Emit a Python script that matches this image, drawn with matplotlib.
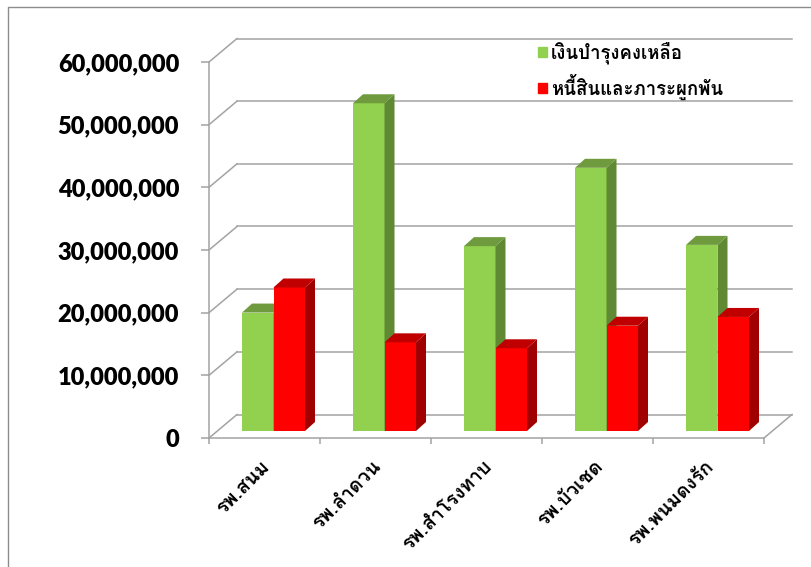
"""
Hospital balances chart, 3D look bars, drawn on one flat axes.
"""

import matplotlib
matplotlib.use("Agg")
import matplotlib.pyplot as plt
from matplotlib.patches import Patch, Polygon

hospitals = ["รพ.สนม", "รพ.ลำดวน", "รพ.สำโรงทาบ", "รพ.บัวเชด", "รพ.พนมดงรัก"]
balance = [18900000, 52300000, 29500000, 42000000, 29700000]
debts = [22900000, 14150000, 13200000, 16800000, 18200000]
series_names = ["เงินบำรุงคงเหลือ", "หนี้สินและภาระผูกพัน"]
y_ticks = [0, 10000000, 20000000, 30000000, 40000000, 50000000, 60000000]

W, H = 811, 567
LEFT, RIGHT, BOTTOM, TOP = 209, 764, 438, 62
GREY = "#a3a3a3"

fig = plt.figure(figsize=(W / 100, H / 100), dpi=100)
ax = fig.add_axes([LEFT / W, 1 - BOTTOM / H, (RIGHT - LEFT) / W, (BOTTOM - TOP) / H])
ax.set_xlim(0, len(hospitals))
ax.set_ylim(0, 60000000)
ax.patch.set_visible(False)

px_x = len(hospitals) / (RIGHT - LEFT)
px_y = 60000000 / (BOTTOM - TOP)


def add_poly(points, color, z):
    ax.add_patch(Polygon(points, closed=True, facecolor=color, edgecolor="none", zorder=z, clip_on=False))


# walls of the 3D box
wall_dx, wall_dy = 28 * px_x, 23.5 * px_y
for t in y_ticks:
    ax.plot([0, wall_dx], [t, t + wall_dy], color=GREY, lw=1.1, clip_on=False, zorder=1)
    ax.plot([wall_dx, len(hospitals) + wall_dx], [t + wall_dy, t + wall_dy], color=GREY, lw=1.1, clip_on=False, zorder=1)
ax.plot([len(hospitals), len(hospitals) + wall_dx], [0, wall_dy], color=GREY, lw=1.1, clip_on=False, zorder=1)

# bars
bar_w = 31.5 * px_x
shift = 9 * px_x
base = 7 * px_y
dx, dy = 10 * px_x, 9 * px_y
for i in range(len(hospitals)):
    mid = i + 0.5 + shift
    for x0, val, front, side, top in [
        (mid - bar_w, balance[i], "#92d050", "#5f8a33", "#6f9a3e"),
        (mid, debts[i], "#ff0000", "#a00000", "#c00000"),
    ]:
        ax.bar(x0, val, bar_w, bottom=base, align="edge", color=front, zorder=3)
        y1 = base + val
        add_poly([(x0 + bar_w, base), (x0 + bar_w + dx, base + dy), (x0 + bar_w + dx, y1 + dy), (x0 + bar_w, y1)], side, 3)
        add_poly([(x0, y1), (x0 + dx, y1 + dy), (x0 + bar_w + dx, y1 + dy), (x0 + bar_w, y1)], top, 3)

for s in ["top", "right"]:
    ax.spines[s].set_visible(False)
for s in ["left", "bottom"]:
    ax.spines[s].set_color(GREY)
    ax.spines[s].set_linewidth(1.1)

ax.set_yticks(y_ticks)
ax.set_yticklabels([f"{t:,}" for t in y_ticks], fontfamily="Lato", fontweight="heavy", fontsize=17)
ax.tick_params(axis="y", length=6, width=1.1, color=GREY, pad=15.5)
ax.set_xticks(range(len(hospitals) + 1))
ax.set_xticklabels([])
ax.tick_params(axis="x", which="major", length=4, width=1.1, color=GREY)
ax.set_xticks([i + 0.5 - 4 * px_x for i in range(len(hospitals))], minor=True)
ax.set_xticklabels(hospitals, minor=True, rotation=45, ha="right", rotation_mode="anchor",
                   fontfamily="Loma", fontweight="bold", fontsize=14)
ax.tick_params(axis="x", which="minor", length=0, pad=14)

handles = [Patch(color="#92d050"), Patch(color="#ff0000")]
ax.legend(handles, series_names, loc="upper left", bbox_to_anchor=((521 - LEFT) / (RIGHT - LEFT), (BOTTOM - 25) / (BOTTOM - TOP)),
          frameon=False, handlelength=0.5, handleheight=0.5, handletextpad=0.2, labelspacing=0.5,
          prop={"family": "Loma", "weight": "bold", "size": 13.4})

# border of the picture
fig.add_artist(plt.Line2D([8 / W, 8 / W, 1], [0, 1 - 7 / H, 1 - 7 / H], color="#8c8c8c", lw=1))

fig.savefig("out.png", dpi=100)
